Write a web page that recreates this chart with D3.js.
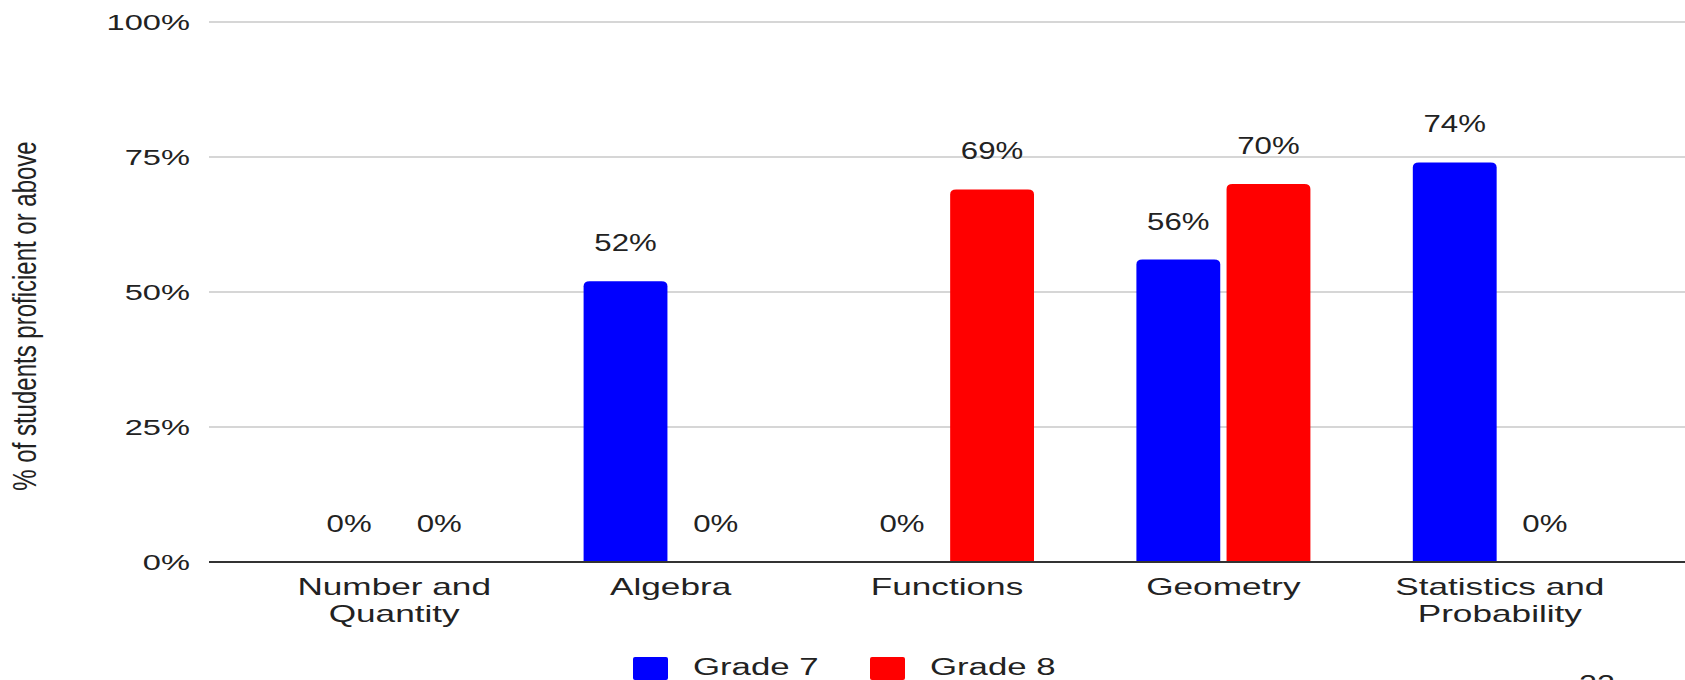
<!DOCTYPE html>
<html>
<head>
<meta charset="utf-8">
<script src="https://cdn.jsdelivr.net/npm/d3@7"></script>
<style>
  html, body { margin: 0; padding: 0; background: #fff; }
  svg { display: block; font-family: "Liberation Sans", Arial, sans-serif; }
</style>
</head>
<body>
<svg id="chart" width="1685" height="680"></svg>
<script>
// Proficiency by domain, grades 7 and 8
const categories = [["Number and", "Quantity"], ["Algebra"], ["Functions"], ["Geometry"], ["Statistics and", "Probability"]];
const seriesNames = ["Grade 7", "Grade 8"];
const grade7 = [0, 0.52, 0, 0.56, 0.74];
const grade8 = [0, 0, 0.69, 0.70, 0];
const yTicks = [0, 0.25, 0.5, 0.75, 1];
const seriesColors = ["#0000ff", "#ff0000"];
const yTitle = "% of students proficient or above";
const pageNumber = "22";

const svg = d3.select("#chart");
const plot = { left: 209, right: 1685, top: 22, bottom: 562 };
const ink = "#222";

const catKeys = categories.map(c => c.join(" "));
const x0 = d3.scaleBand().domain(catKeys).range([plot.left, plot.right]).paddingInner(0).paddingOuter(0.17);
const x1 = d3.scaleBand().domain(seriesNames).range([-87, 87]).paddingInner(0.07);
const y = d3.scaleLinear().domain([0, 1]).range([plot.bottom, plot.top]);
const pct = d3.format(".0%");

// Text helper: glyphs are widened horizontally
function stext(g, x, yy, str, size, sx, anchor) {
  return g.append("text")
    .attr("transform", `translate(${x},${yy}) scale(${sx},1)`)
    .attr("text-anchor", anchor || "middle")
    .attr("font-size", size)
    .attr("fill", ink)
    .text(str);
}

// Gridlines
svg.append("g").selectAll("line")
  .data(yTicks.filter(t => t > 0))
  .join("line")
  .attr("x1", plot.left).attr("x2", plot.right)
  .attr("y1", d => y(d)).attr("y2", d => y(d))
  .attr("stroke", "#c8c8c8").attr("stroke-width", 1.5);

// Y tick labels
const yAxisG = svg.append("g");
yTicks.forEach(t => stext(yAxisG, 190, y(t) + 8, pct(t), 22.5, 1.45, "end"));

// Y axis title
svg.append("text")
  .attr("transform", `translate(36,316) scale(1.4,1) rotate(-90)`)
  .attr("text-anchor", "middle")
  .attr("font-size", 24)
  .attr("fill", ink)
  .text(yTitle);

// Bars
const rows = catKeys.map((k, i) => ({ key: k, values: [grade7[i], grade8[i]] }));

function topRounded(x, yTop, w, yBase, rx, ry) {
  const h = yBase - yTop;
  if (h <= 0) return "";
  ry = Math.min(ry, h);
  return `M${x},${yBase}V${yTop + ry}Q${x},${yTop} ${x + rx},${yTop}` +
         `H${x + w - rx}Q${x + w},${yTop} ${x + w},${yTop + ry}V${yBase}Z`;
}

const groups = svg.append("g").selectAll("g")
  .data(rows)
  .join("g")
  .attr("transform", d => `translate(${x0(d.key) + x0.bandwidth() / 2},0)`);

groups.selectAll("path")
  .data(d => d.values.map((v, j) => ({ v, s: seriesNames[j], c: seriesColors[j] })))
  .join("path")
  .attr("d", d => topRounded(x1(d.s), y(d.v), x1.bandwidth(), y(0), 6, 5))
  .attr("fill", d => d.c);

// Value labels
groups.each(function (d) {
  const g = d3.select(this);
  d.values.forEach((v, j) => {
    const cx = x1(seriesNames[j]) + x1.bandwidth() / 2;
    stext(g, cx, y(v) - 30, pct(v), 24, 1.3, "middle");
  });
});

// Zero baseline
svg.append("line")
  .attr("x1", plot.left).attr("x2", plot.right)
  .attr("y1", y(0)).attr("y2", y(0))
  .attr("stroke", "#333333").attr("stroke-width", 2);

// Category labels
const catG = svg.append("g");
categories.forEach((lines, i) => {
  const cx = x0(catKeys[i]) + x0.bandwidth() / 2;
  lines.forEach((ln, k) => stext(catG, cx, 595 + k * 27, ln, 23, 1.53, "middle"));
});

// Legend
const legend = svg.append("g");
const legendX = [633, 870];
seriesNames.forEach((s, j) => {
  legend.append("rect")
    .attr("x", legendX[j]).attr("y", 657)
    .attr("width", 35).attr("height", 23)
    .attr("rx", 2)
    .attr("fill", seriesColors[j]);
  stext(legend, legendX[j] + 60, 675, s, 23.5, 1.48, "start");
});

// Page number
stext(svg, 1597, 692, pageNumber, 23, 1.4, "middle");
</script>
</body>
</html>
